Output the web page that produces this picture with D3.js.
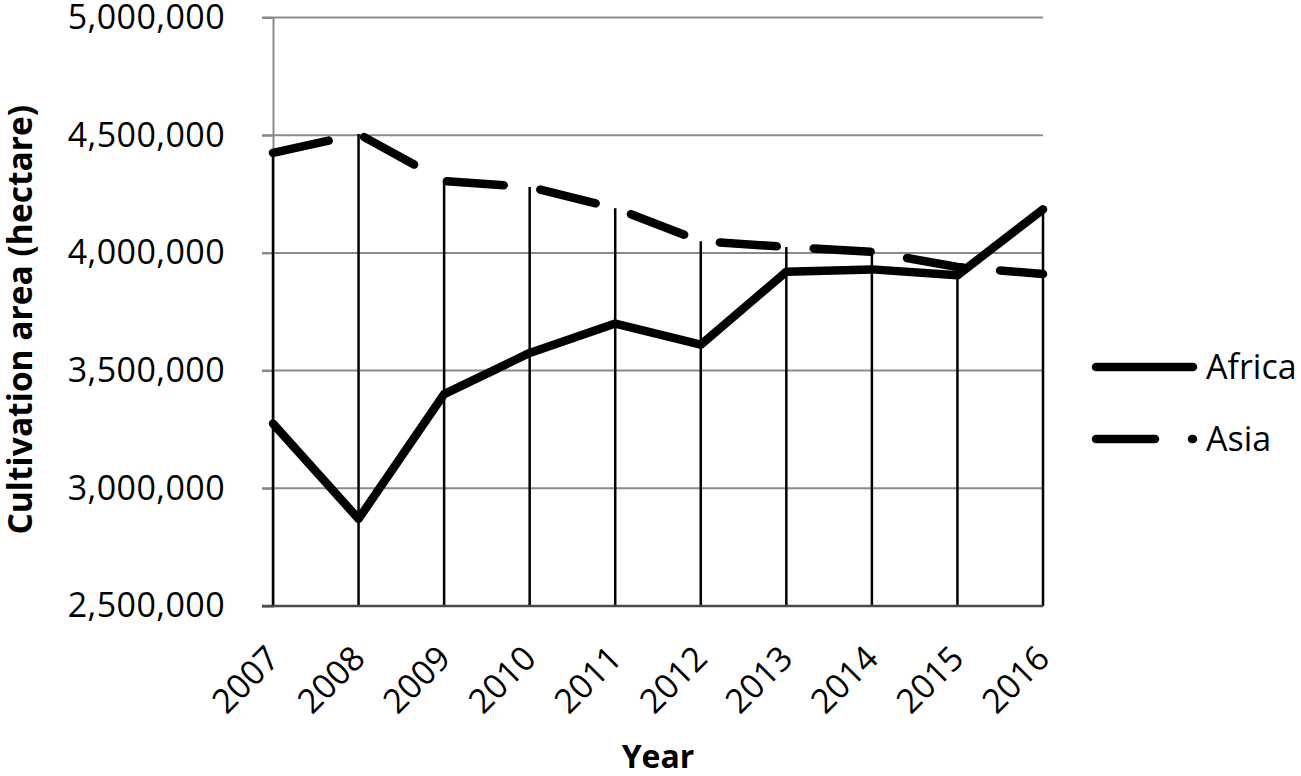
<!DOCTYPE html>
<html>
<head>
<meta charset="utf-8">
<script src="https://cdn.jsdelivr.net/npm/d3@7"></script>
<style>
  html, body { margin: 0; padding: 0; background: #fff; }
  svg { display: block; }
  text { font-family: "Open Sans", "Noto Sans", sans-serif; fill: #000; }
</style>
</head>
<body>
<svg id="chart" width="1301" height="776"></svg>
<script>
const years = ["2007","2008","2009","2010","2011","2012","2013","2014","2015","2016"];
const africa = [3275000, 2870000, 3400000, 3575000, 3700000, 3610000, 3920000, 3930000, 3905000, 4185000];
const asia   = [4425000, 4505000, 4305000, 4280000, 4190000, 4050000, 4025000, 4005000, 3940000, 3910000];
const yTicks = [2500000, 3000000, 3500000, 4000000, 4500000, 5000000];
const seriesNames = ["Africa", "Asia"];

const svg = d3.select("#chart");
const mLeft = 273, mRight = 1043, mTop = 17.5, mBottom = 606;

const x = d3.scalePoint().domain(years).range([mLeft, mRight]);
const y = d3.scaleLinear().domain([2500000, 5000000]).range([mBottom, mTop]);

// gridlines
svg.append("g")
  .selectAll("line")
  .data(yTicks.slice(1))
  .join("line")
  .attr("x1", mLeft - 11).attr("x2", mRight)
  .attr("y1", d => y(d)).attr("y2", d => y(d))
  .attr("stroke", "#8a8a8a").attr("stroke-width", 2);

// y axis
const yAxis = svg.append("g")
  .attr("transform", `translate(${mLeft},0)`)
  .call(d3.axisLeft(y).tickValues(yTicks).tickSize(11).tickPadding(37).tickFormat(d3.format(",")));
yAxis.select(".domain").attr("stroke", "#8a8a8a").attr("stroke-width", 2);
yAxis.selectAll(".tick line").attr("stroke", "#8a8a8a").attr("stroke-width", 2);
yAxis.selectAll(".tick text")
  .style("font-family", '"Open Sans", sans-serif')
  .attr("font-size", 34).attr("letter-spacing", 0.4).attr("fill", "#000");

// drop lines
const maxVals = years.map((d, i) => Math.max(africa[i], asia[i]));
svg.append("g")
  .selectAll("line")
  .data(years)
  .join("line")
  .attr("x1", d => x(d)).attr("x2", d => x(d))
  .attr("y1", (d, i) => y(maxVals[i])).attr("y2", mBottom)
  .attr("stroke", "#000").attr("stroke-width", 2.5);

// x axis
const xAxis = svg.append("g")
  .attr("transform", `translate(0,${mBottom})`)
  .call(d3.axisBottom(x).tickSize(0).tickFormat(""));
xAxis.select(".domain").remove();
svg.append("line")
  .attr("x1", mLeft - 11).attr("x2", mRight)
  .attr("y1", mBottom).attr("y2", mBottom)
  .attr("stroke", "#4a4a4a").attr("stroke-width", 2.5);

svg.append("g")
  .selectAll("text")
  .data(years)
  .join("text")
  .attr("transform", d => `translate(${x(d)},${mBottom + 46}) rotate(-45)`)
  .attr("text-anchor", "end")
  .attr("dy", "0.35em")
  .attr("font-size", 34)
  .text(d => d);

// lines
const line = d3.line().x((d, i) => x(years[i])).y(d => y(d));
svg.append("path")
  .datum(asia)
  .attr("d", line)
  .attr("fill", "none").attr("stroke", "#000").attr("stroke-width", 8.5)
  .attr("stroke-linecap", "round").attr("stroke-linejoin", "round")
  .attr("stroke-dasharray", "57 37");
svg.append("path")
  .datum(africa)
  .attr("d", line)
  .attr("fill", "none").attr("stroke", "#000").attr("stroke-width", 8.5)
  .attr("stroke-linecap", "round").attr("stroke-linejoin", "round");

// axis titles
svg.append("text")
  .attr("transform", `translate(32,${(mTop + mBottom) / 2 + 8}) rotate(-90)`)
  .attr("text-anchor", "middle")
  .attr("font-size", 33.5).attr("font-weight", "bold")
  .text("Cultivation area (hectare)");
svg.append("text")
  .attr("x", 658).attr("y", 768)
  .attr("text-anchor", "middle")
  .attr("font-size", 32).attr("font-weight", "bold")
  .text("Year");

// legend
const legY = [367, 439];
const leg = svg.append("g");
seriesNames.forEach((name, i) => {
  leg.append("line")
    .attr("x1", 1096).attr("x2", 1193)
    .attr("y1", legY[i]).attr("y2", legY[i])
    .attr("stroke", "#000").attr("stroke-width", 8.5)
    .attr("stroke-linecap", "round")
    .attr("stroke-dasharray", i === 1 ? "59 37" : null);
  leg.append("text")
    .attr("x", 1206).attr("y", legY[i])
    .attr("dy", "0.35em")
    .attr("font-size", 34)
    .text(name);
});
</script>
</body>
</html>
